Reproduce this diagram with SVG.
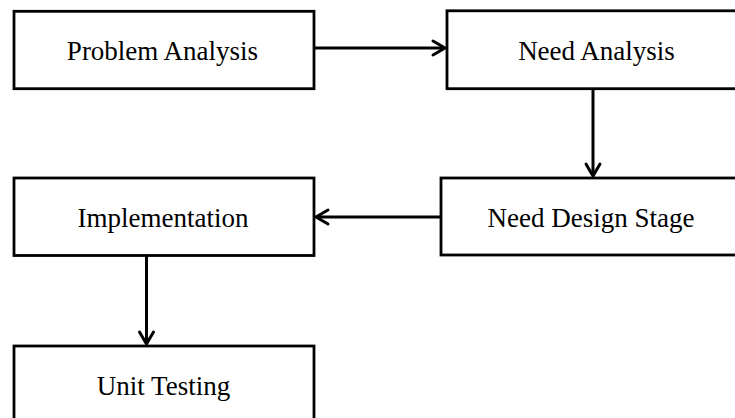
<svg xmlns="http://www.w3.org/2000/svg" width="735" height="418" viewBox="0 0 735 418">
<style>
.box{fill:#fff;stroke:#000;stroke-width:2.8}
.lbl{font-family:"Liberation Serif","Times New Roman",serif;font-size:27px;fill:#000;text-anchor:middle}
.con{fill:none;stroke:#000;stroke-width:3}
.head{fill:none;stroke:#000;stroke-width:3;stroke-linecap:round;stroke-linejoin:round}
</style>
<rect width="735" height="418" fill="#fff"/>
<g id="connectors">
<line class="con" x1="314" y1="48" x2="444" y2="48"/>
<polyline class="head" points="433,41 445,48 433,55"/>
<line class="con" x1="593" y1="89" x2="593" y2="175"/>
<polyline class="head" points="586,164 593,176 600,164"/>
<line class="con" x1="441" y1="217" x2="317" y2="217"/>
<polyline class="head" points="328,210 316,217 328,224"/>
<line class="con" x1="146.5" y1="256" x2="146.5" y2="343"/>
<polyline class="head" points="139.5,332 146.5,344 153.5,332"/>
</g>
<g id="problem-analysis">
<rect class="box" x="14" y="11.3" width="300" height="77.4"/>
<text class="lbl" x="162.5" y="60">Problem Analysis</text>
</g>
<g id="need-analysis">
<rect class="box" x="447" y="10.8" width="300" height="77.9"/>
<text class="lbl" x="596.5" y="60">Need Analysis</text>
</g>
<g id="implementation">
<rect class="box" x="14" y="178" width="300" height="77.5"/>
<text class="lbl" x="163" y="227">Implementation</text>
</g>
<g id="need-design-stage">
<rect class="box" x="441" y="178" width="300" height="77"/>
<text class="lbl" x="591" y="227">Need Design Stage</text>
</g>
<g id="unit-testing">
<rect class="box" x="14" y="346" width="300" height="80"/>
<text class="lbl" x="163.5" y="395">Unit Testing</text>
</g>
</svg>
